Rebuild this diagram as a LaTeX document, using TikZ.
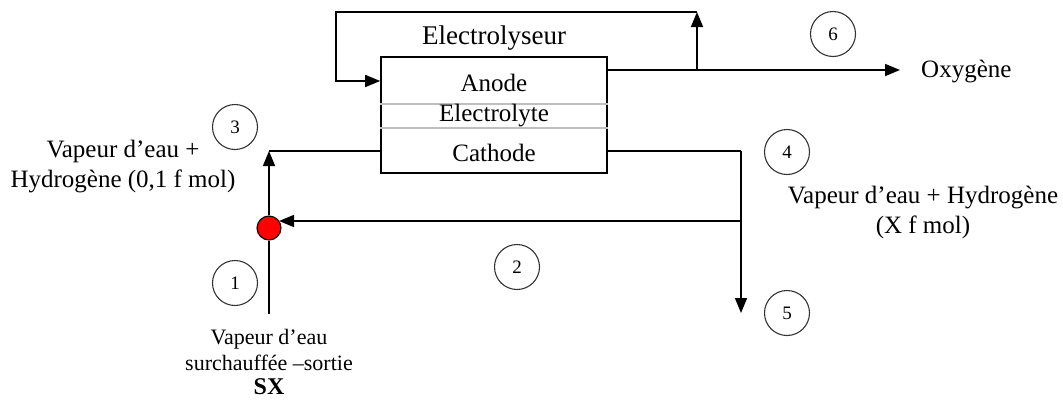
\documentclass[tikz,border=0pt]{standalone}
\usepackage{fontspec}
\setmainfont{Liberation Serif}
\usetikzlibrary{arrows.meta}
\begin{document}
\begin{tikzpicture}[x=1pt,y=-1pt,
  line/.style={line width=1.6pt,draw=black},
  arr/.style={line, -{Triangle[length=15pt,width=12pt]}},
  num/.style={circle,draw=black!80,line width=1.1pt,minimum size=45pt,inner sep=0pt,font=\fontsize{19}{21}\selectfont},
  lbl/.style={font=\fontsize{25}{30}\selectfont,align=center,inner sep=0pt},
  sml/.style={font=\fontsize{22}{26}\selectfont,align=center,inner sep=0pt}]
\useasboundingbox (0,0) rectangle (1063,400);
% main box
\node[line,rectangle,minimum width=226pt,minimum height=116pt,inner sep=0pt] (elec) at (494,115) {};
\draw[black!25,line width=1.2pt] (elec.west |- 0,104) -- (elec.east |- 0,104);
\draw[black!25,line width=1.2pt] (elec.west |- 0,128) -- (elec.east |- 0,128);
\node[lbl] (anode) at (494,83) {Anode};
\node[lbl] (electrolyte) at (494,116) {Electrolyte};
\node[lbl] (cathode) at (494,153) {Cathode};
\node[lbl,font=\fontsize{27}{32}\selectfont] (title) at (494,38) {Electrolyseur};
% coordinates
\coordinate (anin) at (elec.west |- 0,81);
\coordinate (anout) at (elec.east |- 0,70);
\coordinate (catl) at (elec.west |- 0,151);
\coordinate (catr) at (elec.east |- 0,151);
\coordinate (brO) at (697,70);
\coordinate (topR) at (697,12);
\coordinate (topL) at (336,12);
\coordinate (oxend) at (900,70);
\coordinate (inbot) at (269,314);
\coordinate (cornerL) at (269,151);
\coordinate (cornerR) at (741,151);
\coordinate (rec) at (741,221);
\coordinate (recend) at (279,221);
\coordinate (out5) at (741,313);
% red mixer
\node[circle,fill=red,draw=black,line width=1.1pt,minimum size=24pt,inner sep=0pt] (mix) at (269,228) {};
% anode circuit
\draw[arr] (anout) -- (brO) -- (topR);
\draw[arr] (topR) -- (topL) -- (topL |- anin) -- (anin);
\draw[arr] (brO) -- (oxend);
\node[lbl,anchor=west] (oxy) at (921,72) {Oxygène};
% cathode circuit
\draw[line] (mix) -- (inbot);
\draw[arr] (mix) -- (cornerL);
\draw[line] (cornerL) -- (catl);
\draw[line] (catr) -- (cornerR);
\draw[arr] (cornerR) -- (out5);
\draw[arr] (rec) -- (recend);
% numbered circles
\node[num] (n1) at (235,283) {1};
\node[num] (n2) at (517,267) {2};
\node[num] (n3) at (235,127) {3};
\node[num] (n4) at (787,152) {4};
\node[num] (n5) at (787,313) {5};
\node[num] (n6) at (833,34) {6};
% labels
\node[lbl] (l3) at (123,167) {Vapeur d’eau +\\Hydrogène (0,1 f mol)};
\node[lbl] (l4) at (923,212) {Vapeur d’eau + Hydrogène\\(X f mol)};
\node[sml] (l1) at (269,350) {Vapeur d’eau\\surchauffée –sortie};
\node[lbl,font=\fontsize{24}{28}\selectfont\bfseries] (sx) at (269,387) {SX};
\end{tikzpicture}
\end{document}
